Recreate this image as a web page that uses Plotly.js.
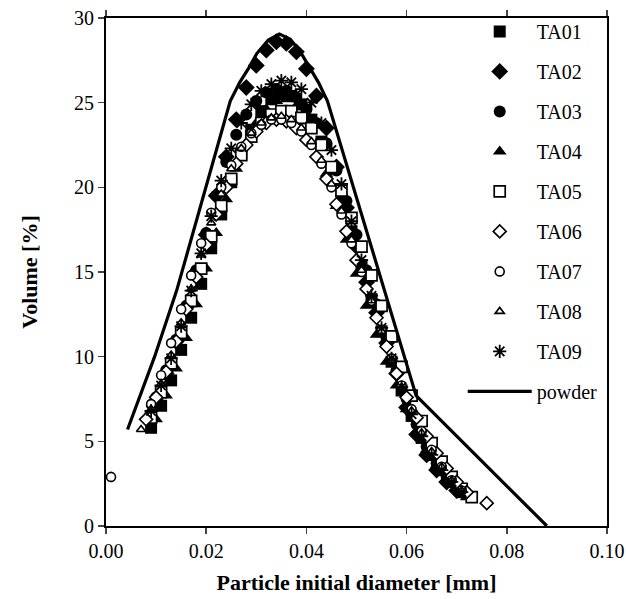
<!DOCTYPE html>
<html>
<head>
<meta charset="utf-8">
<script src="https://cdn.plot.ly/plotly-3.0.1.min.js"></script>
<style>html,body{margin:0;padding:0;background:#fff;}#chart{width:626px;height:599px;}</style>
</head>
<body>
<div id="chart"></div>
<script>
// ---- data ----
const xEven = [0.010,0.012,0.014,0.016,0.018,0.020,0.022,0.024,0.026,0.028,0.030,0.032,0.034,0.036,0.038,0.040,0.042,0.044,0.046,0.048,0.050,0.052,0.054,0.056,0.058,0.060,0.062,0.064,0.066,0.068,0.070];
const xOdd  = [0.009,0.011,0.013,0.015,0.017,0.019,0.021,0.023,0.025,0.027,0.029,0.031,0.033,0.035,0.037,0.039,0.041,0.043,0.045,0.047,0.049,0.051,0.053,0.055,0.057,0.059,0.061,0.063,0.065,0.067,0.069,0.071];

const xTA01 = xOdd;
const yTA01 = [5.8,7.1,8.6,10.4,12.3,14.3,16.4,18.4,20.3,22.0,23.4,24.5,25.2,25.5,25.4,24.9,24.0,22.7,21.1,19.3,17.4,15.4,13.4,11.5,9.7,8.0,6.5,5.2,4.2,3.3,2.6,2.0];

const xTA02 = xEven;
const yTA02 = [7.4,9.0,10.9,12.9,15.0,17.2,19.5,21.8,24.0,25.9,27.2,28.1,28.6,28.5,28.0,27.0,25.4,23.5,21.2,18.8,16.5,14.4,12.6,10.8,9.0,7.0,5.4,4.2,3.3,2.6,2.1];

const xTA03 = xEven;
const yTA03 = [7.6,9.2,11.0,13.0,15.1,17.3,19.5,21.5,23.1,24.3,25.1,25.6,25.8,25.7,25.3,24.6,23.8,22.6,21.0,19.2,17.2,15.1,13.1,11.1,9.2,7.5,6.0,4.7,3.7,2.9,2.2];

const xTA04 = xEven.concat([0.072]);
const yTA04 = [6.3,7.7,9.3,11.1,13.1,15.2,17.3,19.3,21.1,22.6,23.8,24.6,25.1,25.2,24.8,23.9,22.5,20.8,18.9,16.9,14.9,13.0,11.3,9.7,8.3,6.9,5.6,4.5,3.6,2.8,2.2,1.7];

const xTA05 = xOdd.concat([0.073]);
const yTA05 = [6.4,7.9,9.6,11.4,13.3,15.2,17.1,18.9,20.5,21.9,23.0,23.8,24.3,24.5,24.5,24.1,23.5,22.5,21.2,19.8,18.2,16.5,14.8,13.0,11.2,9.4,7.7,6.2,4.9,3.8,2.9,2.2,1.7];

const xTA06 = [0.008].concat(xEven, [0.072,0.076]);
const yTA06 = [6.3,7.6,9.1,10.9,12.8,14.7,16.6,18.4,20.0,21.4,22.5,23.3,23.8,24.0,23.9,23.5,22.8,21.8,20.5,19.0,17.4,15.7,14.0,12.3,10.6,9.0,7.6,6.4,5.3,4.3,3.4,2.6,2.0,1.35];

const xTA07 = [0.001].concat(xOdd);
const yTA07 = [2.9,7.2,8.9,10.8,12.8,14.8,16.7,18.5,20.0,21.3,22.4,23.2,23.7,24.0,24.0,23.8,23.3,22.5,21.4,20.0,18.4,16.7,15.0,13.3,11.6,9.9,8.3,6.9,5.6,4.5,3.5,2.7,2.1];

const xTA08 = [0.007].concat(xOdd);
const yTA08 = [5.7,6.9,8.4,10.1,12.0,14.0,16.0,17.9,19.6,21.1,22.3,23.2,23.8,24.1,24.2,24.0,23.5,22.7,21.6,20.2,18.6,16.9,15.1,13.3,11.5,9.8,8.2,6.8,5.5,4.4,3.5,2.7,2.1];

const xTA09 = xOdd;
const yTA09 = [6.8,8.3,9.9,11.8,13.9,16.1,18.3,20.4,22.3,23.8,24.9,25.7,26.1,26.3,26.2,25.8,25.0,23.8,22.2,20.2,18.0,15.7,13.6,11.7,9.9,8.2,6.6,5.3,4.2,3.3,2.6,2.0];

const xPowder = [0.0043,0.0097,0.0141,0.0192,0.0248,0.0267,0.0286,0.0301,0.0324,0.0346,0.0368,0.0388,0.0406,0.0424,0.0442,0.0530,0.0619,0.0880];
const yPowder = [5.7,10.0,13.9,19.2,25.1,26.2,27.1,27.9,28.7,29.05,28.75,28.0,27.1,26.2,25.1,16.4,7.7,0.0];

const seriesNames = ['TA01','TA02','TA03','TA04','TA05','TA06','TA07','TA08','TA09'];
const xTickVals = [0,0.02,0.04,0.06,0.08,0.10];
const yTickVals = [0,5,10,15,20,25,30];

// ---- styles ----
const FONT = '"Liberation Serif", "Times New Roman", serif';
const styles = [
  {symbol:'square', size:12, color:'#000', line:{color:'#000', width:0}},
  {symbol:'diamond', size:13, color:'#000', line:{color:'#000', width:0}},
  {symbol:'circle', size:12, color:'#000', line:{color:'#000', width:0}},
  {symbol:'triangle-up', size:12, color:'#000', line:{color:'#000', width:0}},
  {symbol:'square', size:11, color:'#fff', line:{color:'#000', width:1.7}},
  {symbol:'diamond', size:10, color:'#fff', line:{color:'#000', width:1.6}},
  {symbol:'circle', size:9, color:'#fff', line:{color:'#000', width:1.6}},
  {symbol:'triangle-up', size:8, color:'#fff', line:{color:'#000', width:1.6}},
  {symbol:'asterisk-open', size:11, color:'#000', line:{color:'#000', width:1.8}}
];
const xs = [xTA01,xTA02,xTA03,xTA04,xTA05,xTA06,xTA07,xTA08,xTA09];
const ys = [yTA01,yTA02,yTA03,yTA04,yTA05,yTA06,yTA07,yTA08,yTA09];

const traces = seriesNames.map((n,i)=>({
  type:'scatter', mode:'markers', name:n, x:xs[i], y:ys[i],
  legendgroup:n, marker:styles[i], cliponaxis:false
}));
traces.push({
  type:'scatter', mode:'lines', name:'powder', x:xPowder, y:yPowder,
  legendgroup:'powder', line:{color:'#000', width:3.2}
});

const layout = {
  width:626, height:599,
  margin:{l:106, r:19, t:18, b:73},
  paper_bgcolor:'#fff', plot_bgcolor:'#fff',
  font:{family:FONT, color:'#000', size:20},
  showlegend:true,
  legend:{x:0.712, y:1.012, xanchor:'left', yanchor:'top', bgcolor:'rgba(0,0,0,0)', maxheight:520,
          font:{family:FONT, size:20, color:'#000'}, tracegroupgap:11, itemwidth:64},
  xaxis:{range:[0,0.10], tickvals:xTickVals, tickformat:'.2f', ticks:'outside', ticklen:6, tickwidth:1.5,
         showline:true, linewidth:2, linecolor:'#000', mirror:'ticks', showgrid:false, zeroline:false,
         tickfont:{family:FONT, size:20},
         title:{text:'<b>Particle initial diameter [mm]</b>', font:{family:FONT, size:22}, standoff:14}},
  yaxis:{range:[0,30], tickvals:yTickVals, ticks:'outside', ticklen:6, tickwidth:1.5,
         showline:true, linewidth:2, linecolor:'#000', mirror:true, showgrid:false, zeroline:false,
         tickfont:{family:FONT, size:20},
         title:{text:'<b>Volume [%]</b>', font:{family:FONT, size:22}, standoff:30}},
  yaxis2:{range:[0,30], tickvals:yTickVals, overlaying:'y', side:'right', ticks:'inside', ticklen:6, tickwidth:1.5,
          showticklabels:false, showline:false, showgrid:false, zeroline:false}
};

Plotly.newPlot('chart', traces, layout, {displayModeBar:false, staticPlot:true});
</script>
</body>
</html>
